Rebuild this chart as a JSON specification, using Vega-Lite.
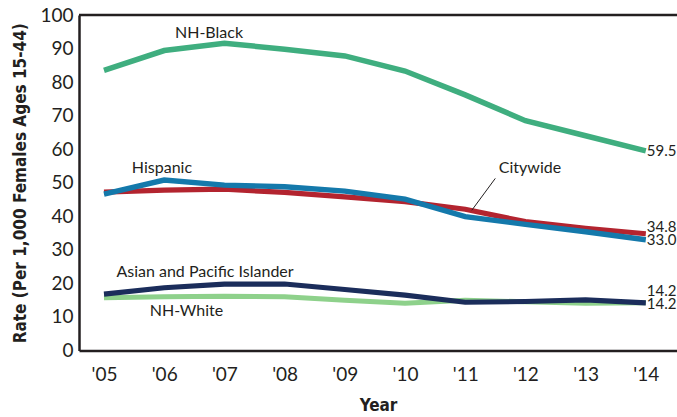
{
  "$schema": "https://vega.github.io/schema/vega-lite/v6.json",
  "width": 598,
  "height": 335.5,
  "autosize": {"type": "none"},
  "padding": {"left": 79, "top": 15, "right": 0, "bottom": 66.5},
  "config": {
    "view": {"stroke": null},
    "font": "Lato",
    "text": {"font": "Lato"}
  },
  "datasets": {
    "rates": [
      {"series": "NH-White", "year": 2005, "rate": 15.7},
      {"series": "NH-White", "year": 2006, "rate": 16.0},
      {"series": "NH-White", "year": 2007, "rate": 16.2},
      {"series": "NH-White", "year": 2008, "rate": 16.0},
      {"series": "NH-White", "year": 2009, "rate": 15.0},
      {"series": "NH-White", "year": 2010, "rate": 14.1},
      {"series": "NH-White", "year": 2011, "rate": 15.0},
      {"series": "NH-White", "year": 2012, "rate": 14.5},
      {"series": "NH-White", "year": 2013, "rate": 14.1},
      {"series": "NH-White", "year": 2014, "rate": 14.2},
      {"series": "Asian and Pacific Islander", "year": 2005, "rate": 16.8},
      {"series": "Asian and Pacific Islander", "year": 2006, "rate": 18.7},
      {"series": "Asian and Pacific Islander", "year": 2007, "rate": 19.8},
      {"series": "Asian and Pacific Islander", "year": 2008, "rate": 19.8},
      {"series": "Asian and Pacific Islander", "year": 2009, "rate": 18.2},
      {"series": "Asian and Pacific Islander", "year": 2010, "rate": 16.5},
      {"series": "Asian and Pacific Islander", "year": 2011, "rate": 14.4},
      {"series": "Asian and Pacific Islander", "year": 2012, "rate": 14.6},
      {"series": "Asian and Pacific Islander", "year": 2013, "rate": 15.1},
      {"series": "Asian and Pacific Islander", "year": 2014, "rate": 14.2},
      {"series": "Citywide", "year": 2005, "rate": 47.2},
      {"series": "Citywide", "year": 2006, "rate": 47.8},
      {"series": "Citywide", "year": 2007, "rate": 48.1},
      {"series": "Citywide", "year": 2008, "rate": 47.1},
      {"series": "Citywide", "year": 2009, "rate": 45.8},
      {"series": "Citywide", "year": 2010, "rate": 44.4},
      {"series": "Citywide", "year": 2011, "rate": 42.1},
      {"series": "Citywide", "year": 2012, "rate": 38.4},
      {"series": "Citywide", "year": 2013, "rate": 36.4},
      {"series": "Citywide", "year": 2014, "rate": 34.8},
      {"series": "Hispanic", "year": 2005, "rate": 46.6},
      {"series": "Hispanic", "year": 2006, "rate": 50.8},
      {"series": "Hispanic", "year": 2007, "rate": 49.3},
      {"series": "Hispanic", "year": 2008, "rate": 48.8},
      {"series": "Hispanic", "year": 2009, "rate": 47.5},
      {"series": "Hispanic", "year": 2010, "rate": 45.1},
      {"series": "Hispanic", "year": 2011, "rate": 39.9},
      {"series": "Hispanic", "year": 2012, "rate": 37.6},
      {"series": "Hispanic", "year": 2013, "rate": 35.4},
      {"series": "Hispanic", "year": 2014, "rate": 33.0},
      {"series": "NH-Black", "year": 2005, "rate": 83.5},
      {"series": "NH-Black", "year": 2006, "rate": 89.4},
      {"series": "NH-Black", "year": 2007, "rate": 91.6},
      {"series": "NH-Black", "year": 2008, "rate": 89.8},
      {"series": "NH-Black", "year": 2009, "rate": 87.8},
      {"series": "NH-Black", "year": 2010, "rate": 83.3},
      {"series": "NH-Black", "year": 2011, "rate": 76.2},
      {"series": "NH-Black", "year": 2012, "rate": 68.5},
      {"series": "NH-Black", "year": 2013, "rate": 64.0},
      {"series": "NH-Black", "year": 2014, "rate": 59.5}
    ],
    "names": [
      {"label": "NH-Black", "year": 2006.744, "rate": 94.6},
      {"label": "Hispanic", "year": 2005.963, "rate": 54.4},
      {"label": "Citywide", "year": 2012.076, "rate": 54.4},
      {"label": "Asian and Pacific Islander", "year": 2006.678, "rate": 23.4},
      {"label": "NH-White", "year": 2006.37, "rate": 11.9}
    ],
    "ends": [
      {"label": "59.5", "year": 2014, "rate": 59.5},
      {"label": "34.8", "year": 2014, "rate": 36.8},
      {"label": "33.0", "year": 2014, "rate": 32.9},
      {"label": "14.2", "year": 2014, "rate": 17.6},
      {"label": "14.2", "year": 2014, "rate": 13.8}
    ],
    "leader": [
      {"year": 2011.11, "rate": 41.8, "year2": 2011.5, "rate2": 51.3}
    ],
    "frame": [{"year": 2004.585, "year2": 2014.518, "rate": 100}]
  },
  "encoding": {
    "x": {
      "field": "year", "type": "quantitative",
      "scale": {"domain": [2004.585, 2014.518], "nice": false, "zero": false},
      "axis": {
        "values": [2005, 2006, 2007, 2008, 2009, 2010, 2011, 2012, 2013, 2014],
        "labelExpr": "\"'\" + slice(toString(datum.value), 2)",
        "grid": false, "ticks": false, "labelOverlap": false,
        "domainColor": "#231f20", "domainWidth": 2.5,
        "labelFontSize": 19, "labelColor": "#231f20", "labelPadding": 15,
        "labelFont": "Lato",
        "title": "Year", "titleFontSize": 17, "titleFontWeight": "bold",
        "titleColor": "#231f20", "titlePadding": 13, "titleFont": "DejaVu Sans Condensed, Roboto, sans-serif"
      }
    },
    "y": {
      "field": "rate", "type": "quantitative",
      "scale": {"domain": [0, 100], "nice": false},
      "axis": {
        "values": [0, 10, 20, 30, 40, 50, 60, 70, 80, 90, 100],
        "grid": false, "ticks": false, "labelOverlap": false,
        "domainColor": "#231f20", "domainWidth": 2.5,
        "labelFontSize": 19, "labelColor": "#231f20", "labelPadding": 6,
        "labelFont": "Lato",
        "title": "Rate (Per 1,000 Females Ages 15-44)",
        "titleFontSize": 17, "titleFontWeight": "bold",
        "titleColor": "#231f20", "titlePadding": 10, "titleFont": "DejaVu Sans Condensed, Roboto, sans-serif"
      }
    }
  },
  "layer": [
    {
      "data": {"name": "rates"},
      "mark": {"type": "line", "strokeCap": "butt", "strokeJoin": "miter"},
      "encoding": {
        "color": {
          "field": "series", "type": "nominal", "legend": null,
          "scale": {
            "domain": ["NH-White", "Asian and Pacific Islander", "Citywide", "Hispanic", "NH-Black"],
            "range": ["#8ed18b", "#1b2d5b", "#b3242f", "#1479ab", "#3fae7f"]
          }
        },
        "strokeWidth": {
          "field": "series", "type": "nominal", "legend": null,
          "scale": {
            "domain": ["NH-White", "Asian and Pacific Islander", "Citywide", "Hispanic", "NH-Black"],
            "range": [5, 5.5, 2.5, 5.5, 5.5]
          }
        }
      }
    },
    {
      "data": {"name": "frame"},
      "mark": {"type": "rule", "color": "#231f20", "strokeWidth": 2.5},
      "encoding": {
        "x2": {"field": "year2"}
      }
    },
    {
      "data": {"name": "leader"},
      "mark": {"type": "rule", "color": "#231f20", "strokeWidth": 1},
      "encoding": {
        "x2": {"field": "year2"},
        "y2": {"field": "rate2"}
      }
    },
    {
      "data": {"name": "names"},
      "mark": {"type": "text", "fontSize": 16, "color": "#231f20", "align": "center", "baseline": "middle", "font": "Lato"},
      "encoding": {
        "text": {"field": "label"}
      }
    },
    {
      "data": {"name": "ends"},
      "mark": {"type": "text", "fontSize": 15, "color": "#231f20", "align": "left", "baseline": "middle", "dx": 1, "font": "Lato"},
      "encoding": {
        "text": {"field": "label"}
      }
    }
  ]
}
